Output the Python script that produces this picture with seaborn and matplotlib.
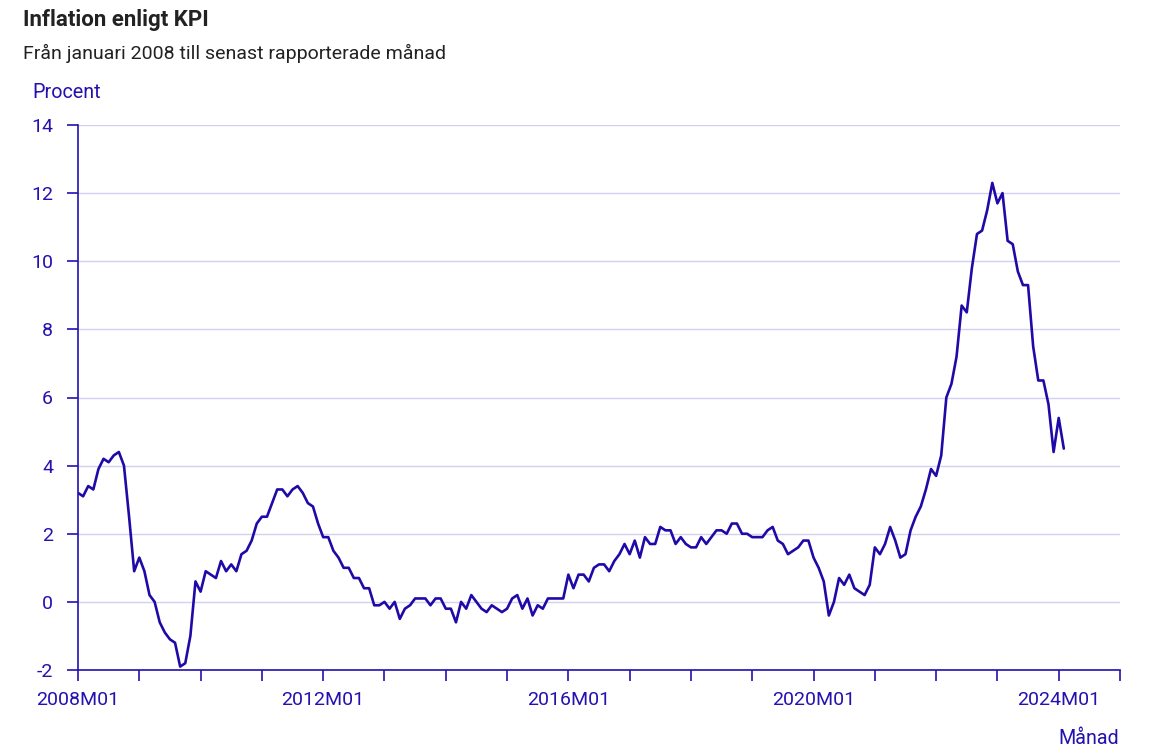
import numpy as np
import pandas as pd
import matplotlib
matplotlib.use("Agg")
import matplotlib.pyplot as plt
import seaborn as sns
from matplotlib.ticker import FixedLocator

# Monthly KPI inflation (%), 2008M01 .. 2024M02
y2008 = [3.2, 3.1, 3.4, 3.3, 3.9, 4.2, 4.1, 4.3, 4.4, 4.0, 2.5, 0.9]
y2009 = [1.3, 0.9, 0.2, 0.0, -0.6, -0.9, -1.1, -1.2, -1.9, -1.8, -1.0, 0.6]
y2010 = [0.3, 0.9, 0.8, 0.7, 1.2, 0.9, 1.1, 0.9, 1.4, 1.5, 1.8, 2.3]
y2011 = [2.5, 2.5, 2.9, 3.3, 3.3, 3.1, 3.3, 3.4, 3.2, 2.9, 2.8, 2.3]
y2012 = [1.9, 1.9, 1.5, 1.3, 1.0, 1.0, 0.7, 0.7, 0.4, 0.4, -0.1, -0.1]
y2013 = [0.0, -0.2, 0.0, -0.5, -0.2, -0.1, 0.1, 0.1, 0.1, -0.1, 0.1, 0.1]
y2014 = [-0.2, -0.2, -0.6, 0.0, -0.2, 0.2, 0.0, -0.2, -0.3, -0.1, -0.2, -0.3]
y2015 = [-0.2, 0.1, 0.2, -0.2, 0.1, -0.4, -0.1, -0.2, 0.1, 0.1, 0.1, 0.1]
y2016 = [0.8, 0.4, 0.8, 0.8, 0.6, 1.0, 1.1, 1.1, 0.9, 1.2, 1.4, 1.7]
y2017 = [1.4, 1.8, 1.3, 1.9, 1.7, 1.7, 2.2, 2.1, 2.1, 1.7, 1.9, 1.7]
y2018 = [1.6, 1.6, 1.9, 1.7, 1.9, 2.1, 2.1, 2.0, 2.3, 2.3, 2.0, 2.0]
y2019 = [1.9, 1.9, 1.9, 2.1, 2.2, 1.8, 1.7, 1.4, 1.5, 1.6, 1.8, 1.8]
y2020 = [1.3, 1.0, 0.6, -0.4, 0.0, 0.7, 0.5, 0.8, 0.4, 0.3, 0.2, 0.5]
y2021 = [1.6, 1.4, 1.7, 2.2, 1.8, 1.3, 1.4, 2.1, 2.5, 2.8, 3.3, 3.9]
y2022 = [3.7, 4.3, 6.0, 6.4, 7.2, 8.7, 8.5, 9.8, 10.8, 10.9, 11.5, 12.3]
y2023 = [11.7, 12.0, 10.6, 10.5, 9.7, 9.3, 9.3, 7.5, 6.5, 6.5, 5.8, 4.4]
y2024 = [5.4, 4.5]

x_tick_labels = ["2008M01", "2012M01", "2016M01", "2020M01", "2024M01"]
y_ticks = [-2, 0, 2, 4, 6, 8, 10, 12, 14]

title = "Inflation enligt KPI"
subtitle = "Från januari 2008 till senast rapporterade månad"
y_label = "Procent"
x_label = "Månad"

values = (y2008 + y2009 + y2010 + y2011 + y2012 + y2013 + y2014 + y2015 +
          y2016 + y2017 + y2018 + y2019 + y2020 + y2021 + y2022 + y2023 + y2024)
df = pd.DataFrame({"month": np.arange(len(values)), "kpi": values})

INDIGO = "#2411b0"
LINE = "#1f0aa8"
GRID = "#d4d0f2"

sns.set_theme(style="white")
plt.rcParams["font.family"] = ["Roboto", "DejaVu Sans"]

fig = plt.figure(figsize=(11.6, 7.52), dpi=100)
ax = fig.add_axes([78 / 1160, 1 - 670 / 752, (1120 - 78) / 1160, (670 - 125) / 752])

sns.lineplot(data=df, x="month", y="kpi", ax=ax, color=LINE, linewidth=1.9)

ax.set_xlim(0, 204)
ax.set_ylim(-2, 14)
ax.set_yticks(y_ticks)
ax.set_yticklabels([str(v) for v in y_ticks])
ax.xaxis.set_major_locator(FixedLocator([48 * i for i in range(len(x_tick_labels))]))
ax.set_xticklabels(x_tick_labels)
ax.xaxis.set_minor_locator(FixedLocator(list(range(0, 205, 12))))

ax.set_xlabel("")
ax.set_ylabel("")
ax.grid(axis="y", color=GRID, linewidth=1.0)
ax.grid(axis="x", visible=False)
ax.set_axisbelow(True)

for s in ["top", "right"]:
    ax.spines[s].set_visible(False)
for s in ["left", "bottom"]:
    ax.spines[s].set_color(INDIGO)
    ax.spines[s].set_linewidth(1.2)

ax.tick_params(axis="y", which="major", direction="out", length=8, width=1.2,
               color=INDIGO, labelcolor=INDIGO, labelsize=14, pad=10, left=True)
ax.tick_params(axis="x", which="major", direction="out", length=8, width=1.2,
               color=INDIGO, labelcolor=INDIGO, labelsize=14, pad=7, bottom=True)
ax.tick_params(axis="x", which="minor", direction="out", length=8, width=1.2,
               color=INDIGO, bottom=True)

fig.text(23 / 1160, 1 - 20 / 752, title, fontsize=16, fontweight="bold",
         color="#222222", ha="left", va="center")
fig.text(23 / 1160, 1 - 53 / 752, subtitle, fontsize=14,
         color="#222222", ha="left", va="center")
fig.text(32 / 1160, 1 - 93 / 752, y_label, fontsize=14.2,
         color=INDIGO, ha="left", va="center")
fig.text(1119 / 1160, 1 - 738 / 752, x_label, fontsize=14.2,
         color=INDIGO, ha="right", va="center")

fig.savefig("out.png", dpi=100, facecolor="white")
